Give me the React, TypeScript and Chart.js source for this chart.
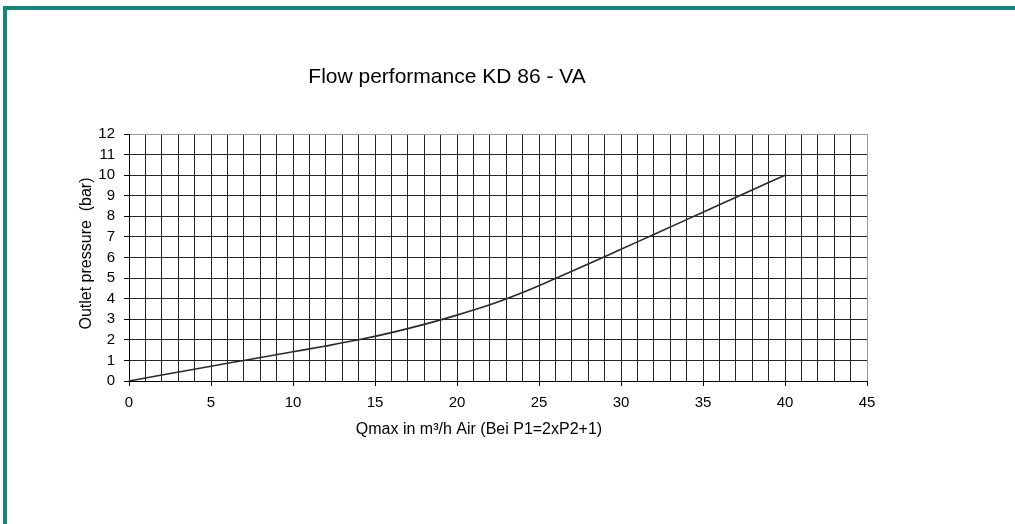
import React, { useEffect, useRef } from "react";
import { Chart, registerables } from "chart.js";

Chart.register(...registerables);

const chartTitle = "Flow performance KD 86 - VA";
const xAxisTitle = "Qmax in m³/h Air (Bei P1=2xP2+1)";
const yAxisTitle = "Outlet pressure  (bar)";

const flowX = [0, 2, 5, 7, 10, 12, 14, 16, 18, 20, 22, 24, 26, 28, 30, 32, 34, 36, 38, 40];
const pressureY = [0, 0.29, 0.72, 1.0, 1.42, 1.7, 2.0, 2.35, 2.75, 3.2, 3.7, 4.3, 4.98, 5.68, 6.4, 7.12, 7.84, 8.56, 9.28, 10];

const xMin = 0;
const xMax = 45;
const yMin = 0;
const yMax = 12;

const FONT = '"Liberation Sans", Arial, Helvetica, sans-serif';

const textPlugin = {
  id: "customTexts",
  afterDraw(chart: any) {
    const { ctx, chartArea } = chart;
    const { left, top, bottom } = chartArea;
    ctx.save();
    ctx.fillStyle = "#000";
    ctx.textAlign = "center";
    ctx.textBaseline = "alphabetic";
    ctx.font = `21px ${FONT}`;
    ctx.fillText(chartTitle, left + 318, top - 51);
    ctx.font = `16px ${FONT}`;
    ctx.fillText(xAxisTitle, left + 350, bottom + 53);
    ctx.translate(left - 38, (top + bottom) / 2 - 4);
    ctx.rotate(-Math.PI / 2);
    ctx.fillText(yAxisTitle, 0, 0);
    ctx.restore();
  },
};

export default function App() {
  const canvasRef = useRef<HTMLCanvasElement | null>(null);

  useEffect(() => {
    const canvas = canvasRef.current;
    if (!canvas) return;
    const chart = new Chart(canvas, {
      type: "line",
      data: {
        datasets: [
          {
            data: flowX.map((x, i) => ({ x, y: pressureY[i] })),
            borderColor: "#2a2a2a",
            borderWidth: 1.6,
            pointRadius: 0,
            fill: false,
            cubicInterpolationMode: "monotone",
          },
        ],
      },
      options: {
        animation: false,
        responsive: false,
        devicePixelRatio: 1,
        layout: { padding: { left: 0, top: 134, right: 148, bottom: 0 } },
        plugins: { legend: { display: false }, title: { display: false }, tooltip: { enabled: false } },
        scales: {
          x: {
            type: "linear",
            min: xMin,
            max: xMax,
            afterFit: (scale: any) => {
              scale.height = 143;
            },
            ticks: {
              stepSize: 1,
              autoSkip: false,
              maxRotation: 0,
              padding: 8,
              color: "#000",
              font: { family: FONT, size: 15 },
              callback: (v: any) => (Number(v) % 5 === 0 ? String(v) : ""),
            },
            grid: {
              color: (c: any) => (c.tick && c.tick.value === xMax ? "#999" : "#262626"),
              tickColor: (c: any) => (c.tick && c.tick.value % 5 === 0 ? "#000" : "rgba(0,0,0,0)"),
              tickLength: 5,
              lineWidth: 1,
            },
            border: { color: "#000", width: 1 },
          },
          y: {
            type: "linear",
            min: yMin,
            max: yMax,
            afterFit: (scale: any) => {
              scale.width = 129;
            },
            ticks: {
              stepSize: 1,
              autoSkip: false,
              padding: 9,
              color: "#000",
              font: { family: FONT, size: 15 },
            },
            grid: {
              color: (c: any) => (c.tick && c.tick.value === yMax ? "#999" : "#262626"),
              tickColor: "#000",
              tickLength: 5,
              lineWidth: 1,
            },
            border: { color: "#000", width: 1 },
          },
        },
      },
      plugins: [textPlugin],
    } as any);
    return () => chart.destroy();
  }, []);

  return (
    <div style={{ position: "fixed", left: 0, top: 0, width: 1015, height: 524, overflow: "hidden", background: "#fff" }}>
      <div
        style={{
          position: "absolute",
          left: 3,
          top: 6,
          width: 1100,
          height: 600,
          borderTop: "4px solid #14877d",
          borderLeft: "4px solid #14877d",
        }}
      />
      <canvas ref={canvasRef} width={1015} height={524} style={{ position: "absolute", left: 0, top: 0, width: 1015, height: 524 }} />
    </div>
  );
}
